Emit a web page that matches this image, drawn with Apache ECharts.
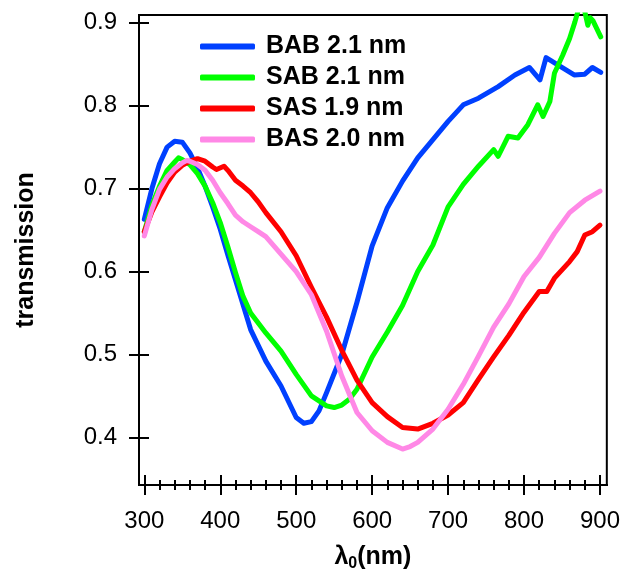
<!DOCTYPE html>
<html><head><meta charset="utf-8">
<script src="https://cdn.jsdelivr.net/npm/echarts@6/dist/echarts.min.js"></script>
<style>html,body{margin:0;padding:0;background:#fff}#c{width:623px;height:577px}</style>
</head><body><div id="c"></div>
<script>
var seriesNames = ['BAB 2.1 nm', 'SAB 2.1 nm', 'SAS 1.9 nm', 'BAS 2.0 nm'];
var colors = ['#0040ff', '#00ff00', '#ff0000', '#ff88e6'];

var babWl = [300,310,320,330,340,350,360,370,380,390,400,410,420,440,460,480,500,510,520,530,540,560,580,600,620,640,660,680,700,720,740,766,788,807,821,829,845,866,880,890,901];
var babT  = [0.663,0.700,0.730,0.750,0.757,0.756,0.743,0.725,0.703,0.678,0.651,0.620,0.590,0.530,0.492,0.462,0.424,0.417,0.419,0.432,0.454,0.500,0.563,0.631,0.677,0.709,0.737,0.759,0.781,0.801,0.809,0.823,0.837,0.846,0.831,0.858,0.849,0.837,0.838,0.846,0.840];

var sabWl = [300,310,320,330,340,345,350,360,370,380,390,400,410,420,430,440,460,480,500,520,540,550,560,570,580,600,620,640,660,680,700,720,740,760,766,779,792,805,818,825,834,840,851,860,867,876,884,887,891,901];
var sabT  = [0.648,0.680,0.703,0.722,0.732,0.737,0.735,0.729,0.718,0.703,0.683,0.659,0.630,0.599,0.570,0.550,0.526,0.504,0.476,0.450,0.438,0.436,0.439,0.446,0.458,0.497,0.527,0.559,0.600,0.632,0.678,0.705,0.727,0.747,0.739,0.763,0.761,0.777,0.801,0.787,0.805,0.839,0.861,0.881,0.901,0.930,0.897,0.906,0.902,0.883];

var sasWl = [300,310,320,330,340,350,360,370,380,390,395,405,410,420,430,440,450,460,480,500,520,540,560,580,600,620,640,660,680,700,720,740,760,780,800,820,830,840,860,870,880,890,900];
var sasT  = [0.648,0.672,0.690,0.707,0.720,0.728,0.733,0.736,0.733,0.726,0.723,0.727,0.722,0.710,0.703,0.695,0.684,0.671,0.648,0.619,0.581,0.545,0.505,0.469,0.442,0.425,0.412,0.410,0.417,0.427,0.442,0.470,0.497,0.523,0.551,0.576,0.576,0.592,0.612,0.624,0.644,0.648,0.656];

var basWl = [300,310,320,330,340,350,356,360,370,380,390,400,410,420,430,440,450,460,480,500,520,540,560,580,600,620,640,650,660,680,700,720,740,760,780,800,820,840,860,880,900];
var basT  = [0.643,0.675,0.699,0.714,0.724,0.731,0.734,0.733,0.729,0.722,0.710,0.695,0.682,0.668,0.660,0.654,0.648,0.642,0.621,0.600,0.572,0.528,0.474,0.430,0.408,0.394,0.386,0.389,0.394,0.410,0.434,0.464,0.498,0.533,0.561,0.594,0.617,0.646,0.671,0.686,0.697];

var xMajorTicks = [300,400,500,600,700,800,900];
var xMinorTicks = [320,340,360,380,420,440,460,480,520,540,560,580,620,640,660,680,720,740,760,780,820,840,860,880];
var yMajorTicks = [0.4,0.5,0.6,0.7,0.8,0.9];

var xMin = 293, xMax = 909, yMin = 0.3426, yMax = 0.9093;

function pairs(wl, t){ return wl.map(function(w,i){ return [w, t[i]]; }); }
var allData = [pairs(babWl,babT), pairs(sabWl,sabT), pairs(sasWl,sasT), pairs(basWl,basT)];

var font = '"Liberation Sans", Arial, Helvetica, sans-serif';

function xAx(ticks, inside, len, showLabel, extra){
  var a = {
    type:'value', min:xMin, max:xMax, position:'bottom', gridIndex:0,
    axisLine:{show:true, onZero:false, lineStyle:{color:'#000', width:2}},
    axisTick:{show:true, inside:inside, length:len, customValues:ticks, lineStyle:{color:'#000', width:2}},
    axisLabel:{show:showLabel, customValues:ticks, color:'#000', fontSize:24, fontFamily:font, margin:24},
    splitLine:{show:false}
  };
  if (extra) for (var k in extra) a[k]=extra[k];
  return a;
}
function yAx(ticks, inside, len, showLabel, extra){
  var a = {
    type:'value', min:yMin, max:yMax, position:'left', gridIndex:0,
    axisLine:{show:true, onZero:false, lineStyle:{color:'#000', width:2}},
    axisTick:{show:true, inside:inside, length:len, customValues:ticks, lineStyle:{color:'#000', width:2}},
    axisLabel:{show:showLabel, customValues:ticks, color:'#000', fontSize:24, fontFamily:font, margin:22,
      formatter:function(v){ return v.toFixed(1); }},
    splitLine:{show:false}
  };
  if (extra) for (var k in extra) a[k]=extra[k];
  return a;
}

var chart = echarts.init(document.getElementById('c'), null, {renderer:'canvas'});
chart.setOption({
  animation:false,
  backgroundColor:'#fff',
  grid:{left:139, top:15, right:14, bottom:91, show:true, borderColor:'#000', borderWidth:2, backgroundColor:'transparent'},
  xAxis:[
    xAx(xMajorTicks, false, 10, true, {
      name:'{l|λ}{s|0}{l|(nm)}', nameLocation:'middle', nameGap:57,
      nameTextStyle:{rich:{
        l:{fontSize:25, fontWeight:'bold', fontFamily:font, color:'#000'},
        s:{fontSize:16, fontWeight:'bold', fontFamily:font, color:'#000', verticalAlign:'bottom', padding:[14,0,0,0]}
      }}
    }),
    xAx(xMajorTicks, true, 10, false),
    xAx(xMinorTicks, false, 5, false),
    xAx(xMinorTicks, true, 5, false)
  ],
  yAxis:[
    yAx(yMajorTicks, false, 10, true, {
      name:'transmission', nameLocation:'middle', nameGap:100, nameRotate:90,
      nameTextStyle:{fontSize:25, fontWeight:'bold', fontFamily:font, color:'#000'}
    }),
    yAx(yMajorTicks, true, 10, false)
  ],
  legend:{
    orient:'vertical', left:195, top:29, itemWidth:55, itemHeight:6, itemGap:6,
    icon:'roundRect',
    textStyle:{fontSize:25, fontWeight:'bold', fontFamily:font, color:'#000', lineHeight:25, padding:[0,0,0,6]},
    data:seriesNames
  },
  series: seriesNames.map(function(n,i){
    return {
      name:n, type:'line', xAxisIndex:0, yAxisIndex:0, data:allData[i],
      showSymbol:false, symbol:'none', clip:true,
      lineStyle:{color:colors[i], width:5, cap:'round', join:'round'},
      itemStyle:{color:colors[i]}
    };
  })
});
</script></body></html>
